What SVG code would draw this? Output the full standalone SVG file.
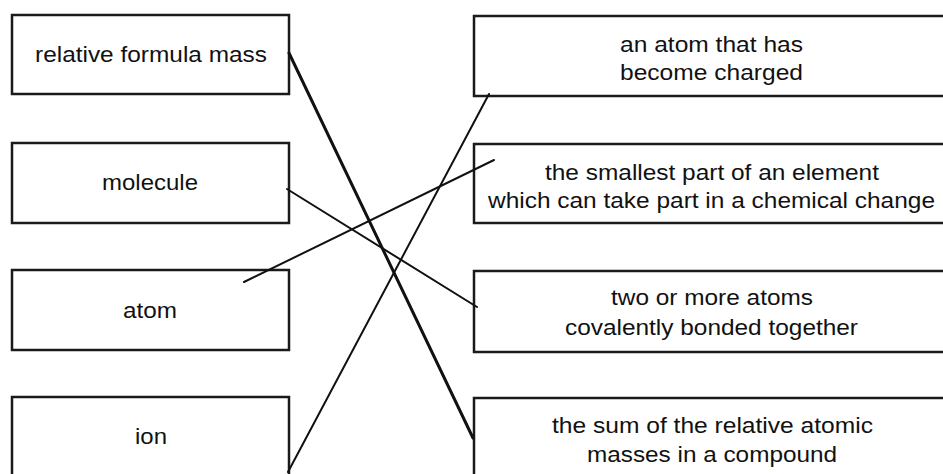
<svg xmlns="http://www.w3.org/2000/svg" width="943" height="474" viewBox="0 0 943 474">
<style>
.box{fill:#fff;stroke:#1a1a1a;stroke-width:2.5}
.t{font-family:"Liberation Sans",Arial,sans-serif;font-size:22px;fill:#111}
.c{stroke:#111;stroke-width:2;fill:none;stroke-linecap:round}
.c.thick{stroke-width:3}
</style>
<rect width="943" height="474" fill="#fff"/>
<g id="left-relative-formula-mass"><rect class="box" x="12" y="15" width="277" height="79"/><text class="t" x="35" y="62" textLength="232" lengthAdjust="spacingAndGlyphs">relative formula mass</text></g>
<g id="left-molecule"><rect class="box" x="12" y="143" width="277" height="80"/><text class="t" x="102" y="190" textLength="96" lengthAdjust="spacingAndGlyphs">molecule</text></g>
<g id="left-atom"><rect class="box" x="12" y="270" width="277" height="80"/><text class="t" x="123" y="318" textLength="54" lengthAdjust="spacingAndGlyphs">atom</text></g>
<g id="left-ion"><rect class="box" x="12" y="397" width="277" height="82"/><text class="t" x="135" y="444" textLength="32" lengthAdjust="spacingAndGlyphs">ion</text></g>
<g id="right-ion-def"><rect class="box" x="474" y="16" width="476" height="80"/><text class="t" x="620" y="52" textLength="183" lengthAdjust="spacingAndGlyphs">an atom that has</text><text class="t" x="620" y="80" textLength="183" lengthAdjust="spacingAndGlyphs">become charged</text></g>
<g id="right-atom-def"><rect class="box" x="474" y="144" width="476" height="79"/><text class="t" x="545" y="180" textLength="334" lengthAdjust="spacingAndGlyphs">the smallest part of an element</text><text class="t" x="488" y="208" textLength="447" lengthAdjust="spacingAndGlyphs">which can take part in a chemical change</text></g>
<g id="right-molecule-def"><rect class="box" x="474" y="271" width="476" height="81"/><text class="t" x="611" y="305" textLength="202" lengthAdjust="spacingAndGlyphs">two or more atoms</text><text class="t" x="565" y="335" textLength="293" lengthAdjust="spacingAndGlyphs">covalently bonded together</text></g>
<g id="right-rfm-def"><rect class="box" x="474" y="398" width="476" height="82"/><text class="t" x="552" y="433" textLength="321" lengthAdjust="spacingAndGlyphs">the sum of the relative atomic</text><text class="t" x="587" y="462" textLength="250" lengthAdjust="spacingAndGlyphs">masses in a compound</text></g>
<g id="connectors">
<line class="c thick" x1="289" y1="53" x2="473" y2="438"/>
<line class="c" x1="287" y1="189" x2="477" y2="307"/>
<line class="c" x1="244" y1="282" x2="494" y2="160"/>
<line class="c" x1="288" y1="472" x2="489" y2="94"/>
</g>
</svg>
